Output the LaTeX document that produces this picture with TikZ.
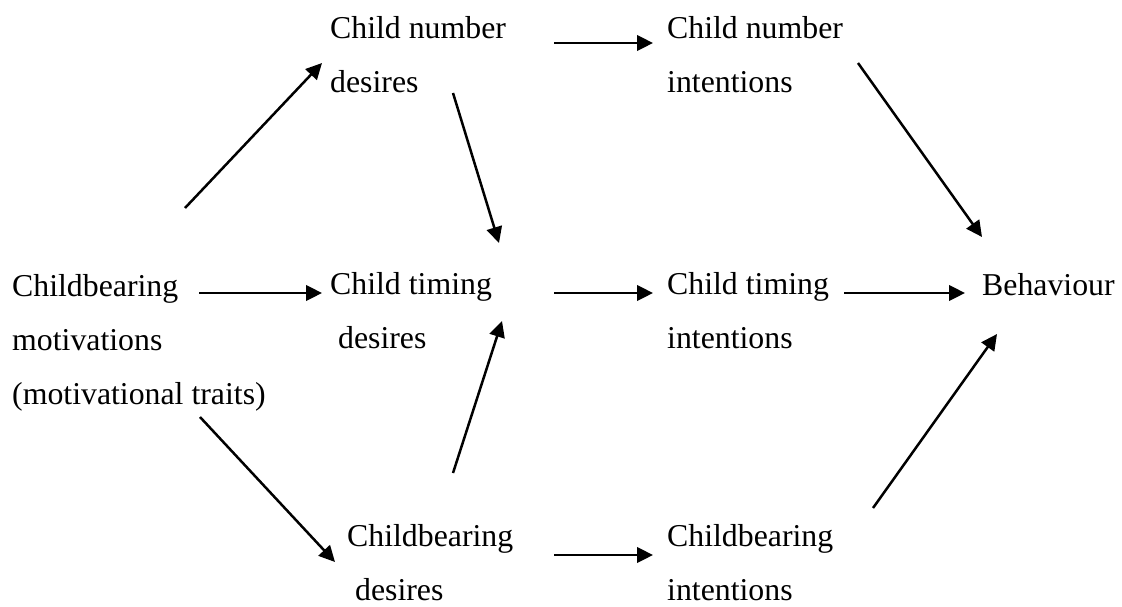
\documentclass[tikz,border=0pt]{standalone}
\usepackage{fontspec}
\setmainfont{Liberation Serif}
\usetikzlibrary{arrows.meta}

\begin{document}
\begin{tikzpicture}[x=1pt, y=-1pt]
                    \tikzset{concept/.style={anchor=base west, inner sep=0pt, align=left, font=\fontsize{31.8}{54}\selectfont},
                             link/.style={-{Triangle[length=16pt, width=15.5pt]}, line width=2.5pt}}
                    \useasboundingbox (0,0) rectangle (1122,606);
                    % anchors sit on the last line
                    \node[concept] (motiv) at (12,404) {Childbearing\\ motivations\\ (motivational traits)};
                    \node[concept] (numdes) at (330,92) {Child number\\ desires};
                    \node[concept] (timdes) at (330,348) {Child timing\\ \hspace*{.25em}desires};
                    \node[concept] (beardes) at (347,600) {Childbearing\\ \hspace*{.25em}desires};
                    \node[concept] (numint) at (667,92) {Child number\\ intentions};
                    \node[concept] (timint) at (667,348) {Child timing\\ intentions};
                    \node[concept] (bearint) at (667,600) {Childbearing\\ intentions};
                    \node[concept] (behav) at (982,295) {Behaviour};
                    % arrow ends
                    \coordinate (motiv-up) at (185,208);     \coordinate (numdes-in) at (322,63);
                    \coordinate (motiv-out) at (199,293);    \coordinate (timdes-in) at (322,293);
                    \coordinate (motiv-down) at (200,417);   \coordinate (beardes-in) at (335,562);
                    \coordinate (numdes-down) at (453,93);   \coordinate (timdes-top) at (499,243);
                    \coordinate (beardes-up) at (453,473);   \coordinate (timdes-bot) at (502,321);
                    \coordinate (numdes-out) at (554,43);    \coordinate (numint-in) at (653,43);
                    \coordinate (timdes-out) at (554,293);   \coordinate (timint-in) at (653,293);
                    \coordinate (beardes-out) at (554,555);  \coordinate (bearint-in) at (653,555);
                    \coordinate (numint-out) at (858,63);    \coordinate (behav-top) at (982,237);
                    \coordinate (timint-out) at (844,293);   \coordinate (behav-in) at (965,293);
                    \coordinate (bearint-out) at (873,508);  \coordinate (behav-bot) at (997,334);
                    \draw[link] (motiv-up) -- (numdes-in);
                    \draw[link] (motiv-out) -- (timdes-in);
                    \draw[link] (motiv-down) -- (beardes-in);
                    \draw[link] (numdes-down) -- (timdes-top);
                    \draw[link] (beardes-up) -- (timdes-bot);
                    \draw[link] (numdes-out) -- (numint-in);
                    \draw[link] (timdes-out) -- (timint-in);
                    \draw[link] (beardes-out) -- (bearint-in);
                    \draw[link] (numint-out) -- (behav-top);
                    \draw[link] (timint-out) -- (behav-in);
                    \draw[link] (bearint-out) -- (behav-bot);
                \end{tikzpicture}
\end{document}
